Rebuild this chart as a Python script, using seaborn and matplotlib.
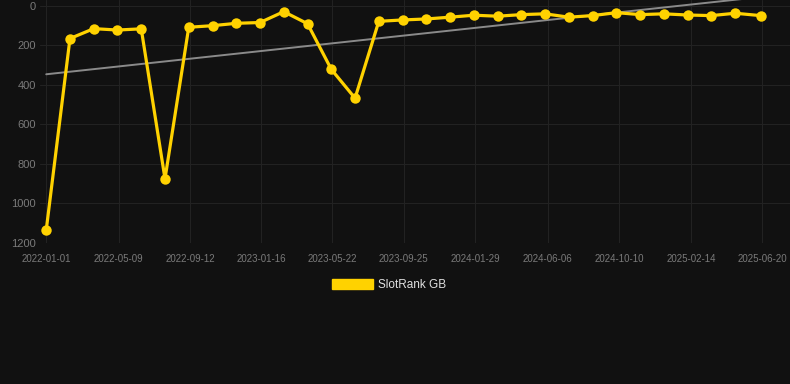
import numpy as np
import pandas as pd
import seaborn as sns
import matplotlib.pyplot as plt
import matplotlib.dates as mdates
from matplotlib.patches import Patch

# SlotRank GB position over time (lower number = better rank)
dates = ["2022-01-01", "2022-02-12", "2022-03-26", "2022-05-07", "2022-06-18",
         "2022-07-30", "2022-09-10", "2022-10-22", "2022-12-03", "2023-01-14",
         "2023-02-25", "2023-04-08", "2023-05-20", "2023-07-01", "2023-08-12",
         "2023-09-23", "2023-11-04", "2023-12-16", "2024-01-27", "2024-03-09",
         "2024-04-20", "2024-06-01", "2024-07-13", "2024-08-24", "2024-10-05",
         "2024-11-16", "2024-12-28", "2025-02-08", "2025-03-22", "2025-05-03",
         "2025-06-17"]
rank = [1135, 165, 115, 122, 116, 875, 108, 100, 88, 84,
        29, 90, 321, 467, 78, 71, 66, 57, 47, 52,
        44, 40, 57, 49, 34, 44, 40, 46, 49, 37, 49]
tick_dates = ["2022-01-01", "2022-05-09", "2022-09-12", "2023-01-16", "2023-05-22",
              "2023-09-25", "2024-01-29", "2024-06-06", "2024-10-10", "2025-02-14",
              "2025-06-20"]
y_ticks = [0, 200, 400, 600, 800, 1000, 1200]

bg = "#111111"
yellow = "#ffd200"

df = pd.DataFrame({"date": pd.to_datetime(dates), "rank": rank})

sns.set_style("dark")
plt.rcParams["font.family"] = ["Liberation Sans", "DejaVu Sans"]

fig = plt.figure(figsize=(7.9, 3.84), dpi=100, facecolor=bg)
ax = fig.add_axes([40 / 790, 1 - 243 / 384, 750 / 790, 243 / 384])
ax.set_facecolor(bg)

# linear trend through the points
xnum = mdates.date2num(df["date"])
k, b = np.polyfit(xnum, df["rank"], 1)
ax.plot(df["date"], k * xnum + b, color="#8a8a8a", lw=1.4, zorder=2)

sns.lineplot(data=df, x="date", y="rank", ax=ax, color=yellow, lw=2.3,
             marker="o", markersize=7.5, markeredgewidth=0, zorder=3)

ax.set_ylim(1200, -30)
ax.set_xlim(pd.Timestamp("2021-12-21"), pd.Timestamp("2025-08-08"))
ax.set_yticks(y_ticks)
ax.set_xticks(pd.to_datetime(tick_dates))
ax.xaxis.set_major_formatter(mdates.DateFormatter("%Y-%m-%d"))

ax.grid(True, color="#222222", lw=0.8)
ax.tick_params(axis="x", colors="#222222", length=6, width=0.8, labelcolor="#7a7a7a",
               labelsize=7, pad=2)
ax.tick_params(axis="y", length=0, labelcolor="#7a7a7a", labelsize=8, pad=3)
for s in ax.spines.values():
    s.set_visible(False)
ax.set_xlabel("")
ax.set_ylabel("")

fig.legend(handles=[Patch(facecolor=yellow, edgecolor=yellow, label="SlotRank GB")],
           loc="center", bbox_to_anchor=(0.493, 1 - 285 / 384), frameon=False,
           fontsize=8.5, labelcolor="#e0e0e0", handlelength=3.4, handleheight=1.0,
           handletextpad=0.5)

fig.savefig("out.png", dpi=100, facecolor=bg)
